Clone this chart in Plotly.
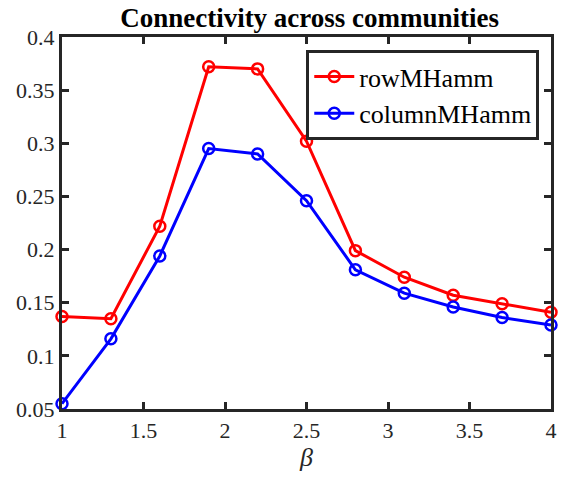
import plotly.graph_objects as go

beta = [1.0, 1.3, 1.6, 1.9, 2.2, 2.5, 2.8, 3.1, 3.4, 3.7, 4.0]
row_mhamm = [0.137, 0.135, 0.222, 0.372, 0.370, 0.302, 0.199, 0.174, 0.157, 0.149, 0.141]
col_mhamm = [0.055, 0.116, 0.194, 0.295, 0.290, 0.246, 0.181, 0.159, 0.146, 0.136, 0.129]
x_ticks = [1, 1.5, 2, 2.5, 3, 3.5, 4]
x_tick_labels = ["1", "1.5", "2", "2.5", "3", "3.5", "4"]
y_ticks = [0.05, 0.1, 0.15, 0.2, 0.25, 0.3, 0.35, 0.4]
y_tick_labels = ["0.05", "0.1", "0.15", "0.2", "0.25", "0.3", "0.35", "0.4"]

font_family = "Times New Roman"
axis_color = "#262626"

fig = go.Figure()
fig.add_trace(go.Scatter(
    x=beta, y=row_mhamm, mode="lines+markers", name="rowMHamm",
    line=dict(color="#ff0000", width=3),
    marker=dict(symbol="circle-open", size=11, color="#ff0000", line=dict(width=2.5)),
    cliponaxis=False,
))
fig.add_trace(go.Scatter(
    x=beta, y=col_mhamm, mode="lines+markers", name="columnMHamm",
    line=dict(color="#0000ff", width=3),
    marker=dict(symbol="circle-open", size=11, color="#0000ff", line=dict(width=2.5)),
    cliponaxis=False,
))

axis_common = dict(
    showline=True, linecolor=axis_color, linewidth=3, mirror="allticks",
    ticks="inside", ticklen=7, tickwidth=3, tickcolor=axis_color,
    showgrid=False, zeroline=False,
    tickfont=dict(family=font_family, size=22, color=axis_color),
)

fig.update_layout(
    width=564, height=483,
    margin=dict(l=62, r=7, t=37, b=74),
    paper_bgcolor="white", plot_bgcolor="white",
    font=dict(family=font_family),
    title=dict(text="<b>Connectivity across communities</b>", x=0.549, xanchor="center",
               y=0.963, yanchor="middle",
               font=dict(family=font_family, size=27, color="black")),
    xaxis=dict(range=[1, 4], tickvals=x_ticks, ticktext=x_tick_labels,
               title=dict(text="<i>β</i>", font=dict(family=font_family, size=26, color=axis_color), standoff=6),
               **axis_common),
    yaxis=dict(range=[0.05, 0.4], tickvals=y_ticks, ticktext=y_tick_labels, **axis_common),
    legend=dict(x=0.976, y=0.965, xanchor="right", yanchor="top",
                bgcolor="white", bordercolor=axis_color, borderwidth=3,
                font=dict(family=font_family, size=26, color="black"),
                itemwidth=40, tracegroupgap=0),
    showlegend=True,
)

fig.write_html("out.html", post_script="document.body.style.margin='0';",
               config={"displayModeBar": False})
